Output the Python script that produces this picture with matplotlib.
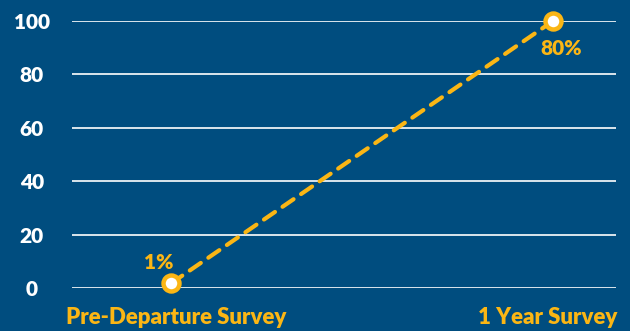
import matplotlib
matplotlib.use("Agg")
from matplotlib import pyplot as plt
from matplotlib.transforms import ScaledTranslation

# data
surveys = ["Pre-Departure Survey", "1 Year Survey"]
scores = [1.8, 100]
point_labels = ["1%", "80%"]
y_ticks = [0, 20, 40, 60, 80, 100]

bg = "#004D7F"
gold = "#FBB614"

plt.rcParams["font.family"] = ["Lato", "DejaVu Sans"]

fig = plt.figure(figsize=(6.3, 3.31), dpi=100, facecolor=bg)
ax = fig.add_axes([72 / 630, 43 / 331, 544 / 630, 267 / 331], facecolor=bg)

xs = list(range(len(surveys)))
ax.plot(xs, scores, color=gold, lw=3, ls=(0, (3.2, 2.2)), dash_capstyle="round",
        marker="o", ms=11.5, mfc="white", mec=gold, mew=3.2, zorder=3, clip_on=False)

# percentage labels next to the points
offsets = [(-9, 15), (6, -20)]
for x, y, txt, off in zip(xs, scores, point_labels, offsets):
    ax.annotate(txt, (x, y), xytext=off, textcoords="offset points",
                ha="center", va="center", color=gold, fontsize=15, fontweight="heavy")

ax.set_xlim(-0.26, 1.165)
ax.set_ylim(0, 100)
ax.set_yticks(y_ticks)
ax.set_xticks(xs)
ax.set_xticklabels(surveys)
ax.grid(axis="y", color="white", lw=1.2)
ax.set_axisbelow(True)
for s in ax.spines.values():
    s.set_visible(False)

ax.tick_params(axis="y", length=0, pad=29, colors="white", labelsize=15)
ax.tick_params(axis="x", length=0, pad=14, colors=gold, labelsize=16)
for lab in ax.get_yticklabels():
    lab.set_ha("center")
    lab.set_fontweight("heavy")
# the category labels sit a little inward of the points
for lab, dx in zip(ax.get_xticklabels(), [0.05, -0.05]):
    lab.set_fontweight("heavy")
    lab.set_transform(lab.get_transform() + ScaledTranslation(dx, 0, fig.dpi_scale_trans))

fig.savefig("out.png", dpi=100, facecolor=bg)
